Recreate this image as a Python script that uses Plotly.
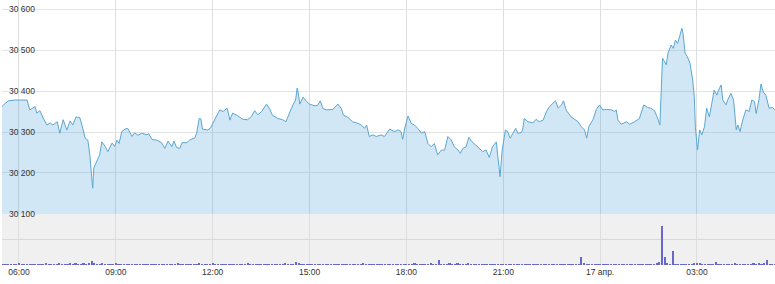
import plotly.graph_objects as go
from datetime import datetime, timedelta

# ---------------- data ----------------
price_times = [
    "05:28", "05:40", "05:53", "06:15", "06:20", "06:30", "06:33", "06:39", "06:45", "06:52",
    "06:58", "07:03", "07:11", "07:16", "07:22", "07:29", "07:35", "07:40", "07:46", "07:53",
    "07:57", "08:03", "08:08", "08:12", "08:15", "08:17", "08:19", "08:25", "08:30", "08:34",
    "08:40", "08:45", "08:53", "08:58", "09:02", "09:06", "09:11", "09:17", "09:22", "09:30",
    "09:35", "09:41", "09:48", "09:58", "10:01", "10:07", "10:16", "10:25", "10:31", "10:37",
    "10:44", "10:48", "10:53", "10:59", "11:03", "11:12", "11:17", "11:27", "11:30", "11:35",
    "11:38", "11:41", "11:51", "11:56", "12:04", "12:13", "12:19", "12:27", "12:32", "12:37",
    "12:46", "12:56", "13:05", "13:12", "13:18", "13:24", "13:31", "13:40", "13:46", "13:51",
    "14:01", "14:10", "14:16", "14:23", "14:29", "14:34", "14:37", "14:39", "14:42", "14:48",
    "14:54", "15:00", "15:09", "15:15", "15:20", "15:25", "15:31", "15:43", "15:53", "15:59",
    "16:03", "16:11", "16:20", "16:30", "16:36", "16:42", "16:46", "16:51", "16:58", "17:04",
    "17:13", "17:19", "17:29", "17:38", "17:44", "17:50", "17:53", "17:57", "18:03", "18:09",
    "18:15", "18:21", "18:28", "18:34", "18:40", "18:46", "18:52", "18:58", "19:05", "19:11",
    "19:17", "19:23", "19:29", "19:36", "19:40", "19:45", "19:51", "19:56", "20:02", "20:09",
    "20:16", "20:22", "20:28", "20:34", "20:40", "20:47", "20:50", "20:54", "20:58", "21:04",
    "21:08", "21:13", "21:18", "21:23", "21:27", "21:33", "21:36", "21:39", "21:46", "21:55",
    "22:01", "22:07", "22:14", "22:20", "22:26", "22:32", "22:37", "22:42", "22:48", "22:52",
    "22:57", "23:06", "23:13", "23:19", "23:25", "23:31", "23:35", "23:39", "23:47", "23:53",
    "23:59", "00:05", "00:12", "00:21", "00:27", "00:30", "00:33", "00:39", "00:49", "00:55",
    "01:04", "01:13", "01:21", "01:28", "01:34", "01:41", "01:47", "01:51", "01:56", "02:03",
    "02:06", "02:12", "02:16", "02:20", "02:24", "02:28", "02:32", "02:34", "02:38", "02:42",
    "02:47", "02:52", "02:55", "02:57", "03:01", "03:05", "03:09", "03:14", "03:18", "03:23",
    "03:26", "03:32", "03:37", "03:40", "03:45", "03:48", "03:54", "03:57", "04:03", "04:08",
    "04:13", "04:16", "04:20", "04:25", "04:31", "04:37", "04:42", "04:47", "04:50", "04:55",
    "04:59", "05:03", "05:08", "05:14", "05:20", "05:25",
]
price_values = [
    30362, 30376, 30378, 30378, 30354, 30362, 30346, 30352, 30334, 30317,
    30322, 30317, 30325, 30297, 30330, 30305, 30327, 30317, 30337, 30335,
    30317, 30285, 30280, 30240, 30191, 30163, 30212, 30232, 30245, 30276,
    30265, 30252, 30273, 30265, 30280, 30272, 30301, 30307, 30309, 30289,
    30298, 30292, 30297, 30293, 30296, 30282, 30280, 30274, 30260, 30278,
    30264, 30278, 30262, 30260, 30274, 30274, 30280, 30286, 30297, 30333,
    30332, 30307, 30305, 30310, 30329, 30354, 30350, 30358, 30329, 30346,
    30340, 30331, 30330, 30338, 30352, 30342, 30350, 30368, 30356, 30341,
    30333, 30330, 30325, 30349, 30366, 30378, 30407, 30395, 30368, 30385,
    30375, 30368, 30364, 30365, 30376, 30357, 30354, 30355, 30368, 30357,
    30341, 30336, 30325, 30321, 30317, 30309, 30317, 30289, 30293, 30289,
    30293, 30289, 30307, 30301, 30305, 30301, 30282, 30310, 30339, 30321,
    30317, 30309, 30297, 30301, 30272, 30264, 30272, 30244, 30256, 30256,
    30289, 30281, 30264, 30256, 30248, 30260, 30264, 30287, 30276, 30268,
    30260, 30252, 30256, 30238, 30264, 30276, 30240, 30191, 30256, 30305,
    30301, 30285, 30297, 30309, 30297, 30298, 30305, 30333, 30325, 30322,
    30331, 30325, 30329, 30349, 30362, 30370, 30376, 30358, 30366, 30376,
    30353, 30337, 30331, 30325, 30313, 30305, 30285, 30313, 30331, 30355,
    30366, 30354, 30355, 30354, 30350, 30354, 30329, 30319, 30325, 30319,
    30325, 30333, 30366, 30360, 30358, 30352, 30333, 30317, 30480, 30464,
    30492, 30512, 30504, 30524, 30516, 30537, 30553, 30541, 30492, 30484,
    30468, 30427, 30386, 30313, 30256, 30305, 30293, 30313, 30358, 30337,
    30358, 30402, 30390, 30402, 30415, 30378, 30366, 30378, 30394, 30378,
    30305, 30317, 30301, 30329, 30354, 30350, 30378, 30374, 30345, 30378,
    30417, 30398, 30390, 30358, 30360, 30354,
]

# volume: one row per hour, 5-minute bars starting at 05:30
volume_start = "05:30"
volume_rows = [
    [2, 1, 2, 2, 1, 2, 3, 2, 1, 2, 2, 1],
    [2, 2, 1, 2, 3, 2, 1, 2, 2, 4, 2, 1],
    [2, 3, 2, 4, 2, 2, 3, 2, 4, 8, 3, 2],
    [2, 3, 2, 1, 2, 2, 3, 2, 1, 2, 2, 1],
    [2, 1, 2, 2, 1, 2, 2, 1, 2, 1, 2, 2],
    [1, 2, 2, 1, 2, 3, 2, 1, 2, 2, 1, 2],
    [2, 3, 2, 2, 1, 2, 3, 2, 2, 1, 2, 2],
    [2, 1, 2, 2, 1, 2, 2, 3, 2, 1, 2, 2],
    [1, 2, 2, 1, 2, 2, 1, 2, 2, 3, 2, 2],
    [2, 6, 3, 2, 2, 1, 2, 2, 1, 2, 2, 1],
    [2, 1, 2, 2, 1, 2, 2, 1, 2, 2, 1, 2],
    [2, 2, 4, 2, 1, 2, 2, 1, 2, 2, 1, 2],
    [2, 1, 2, 2, 1, 2, 2, 1, 2, 3, 2, 2],
    [2, 1, 2, 3, 2, 2, 9, 2, 1, 2, 3, 2],
    [2, 3, 2, 1, 2, 3, 2, 2, 1, 2, 2, 1],
    [2, 1, 2, 2, 1, 2, 2, 1, 2, 2, 1, 2],
    [2, 1, 2, 2, 1, 2, 2, 1, 2, 2, 1, 2],
    [2, 1, 2, 2, 1, 2, 2, 1, 2, 2, 1, 16],
    [3, 2, 1, 2, 2, 1, 2, 2, 1, 2, 2, 1],
    [2, 1, 2, 2, 1, 2, 2, 1, 2, 2, 1, 2],
    [2, 1, 2, 3, 6, 76, 16, 3, 2, 27, 2, 1],
    [2, 2, 1, 2, 2, 4, 4, 3, 2, 1, 2, 2],
    [2, 6, 2, 1, 2, 2, 1, 2, 3, 2, 1, 2],
    [2, 1, 2, 4, 2, 4, 2, 3, 9, 2, 2, 1],
]

start_day = "2024-04-16"
x_start = "2024-04-16 05:28:25"
x_end = "2024-04-17 05:25:00"
tick_times = ["2024-04-16 06:00", "2024-04-16 09:00", "2024-04-16 12:00", "2024-04-16 15:00",
              "2024-04-16 18:00", "2024-04-16 21:00", "2024-04-17 00:00", "2024-04-17 03:00"]
tick_labels = ["06:00", "09:00", "12:00", "15:00", "18:00", "21:00", "17 апр.", "03:00"]
price_ticks = [30100, 30200, 30300, 30400, 30500, 30600]
price_tick_labels = ["30 100", "30 200", "30 300", "30 400", "30 500", "30 600"]

# ---------------- build ----------------
def to_datetimes(hhmm_list):
    base = datetime.strptime(start_day, "%Y-%m-%d")
    out, day, prev = [], 0, None
    for s in hhmm_list:
        h, m = map(int, s.split(":"))
        mins = h * 60 + m
        if prev is not None and mins < prev:
            day += 1
        prev = mins
        out.append(base + timedelta(days=day, minutes=mins))
    return out

px_t = to_datetimes(price_times)
vol_vals = [v for row in volume_rows for v in row]
v0 = datetime.strptime(start_day + " " + volume_start, "%Y-%m-%d %H:%M")
vol_t = [v0 + timedelta(minutes=5 * i) for i in range(len(vol_vals))]

FONT = "Liberation Sans, Arial, sans-serif"
SPLIT = 0.1925

fig = go.Figure()
fig.add_trace(go.Scatter(
    x=px_t, y=price_values, mode="lines",
    line=dict(color="#5ba7d3", width=1),
    fill="tozeroy", fillcolor="rgba(70,160,215,0.25)",
    xaxis="x", yaxis="y", hoverinfo="skip", showlegend=False,
))
fig.add_trace(go.Bar(
    x=vol_t, y=vol_vals, width=4 * 60 * 1000,
    marker=dict(color="#6868cc", line=dict(width=0)),
    xaxis="x", yaxis="y2", hoverinfo="skip", showlegend=False,
))

annotations = [
    dict(xref="paper", yref="y", x=0, y=v, text=t, showarrow=False,
         xanchor="left", yanchor="middle", xshift=5,
         font=dict(family=FONT, size=8.5, color="#333333"))
    for v, t in zip(price_ticks, price_tick_labels)
]

fig.update_layout(
    width=775, height=284,
    margin=dict(l=2, r=0, t=0, b=19),
    paper_bgcolor="white", plot_bgcolor="white",
    font=dict(family=FONT, size=8.5, color="#333333"),
    bargap=0,
    xaxis=dict(
        type="date", range=[x_start, x_end], anchor="y2",
        tickvals=tick_times, ticktext=tick_labels,
        showgrid=True, gridcolor="#dedede", gridwidth=1,
        ticks="", showline=False, zeroline=False,
        tickfont=dict(size=8.5, color="#333333"),
    ),
    yaxis=dict(
        domain=[SPLIT, 1], range=[30100, 30622],
        tickvals=price_ticks, showticklabels=False, ticks="",
        showgrid=True, gridcolor="#e4e4e4", gridwidth=1,
        zeroline=False, showline=False,
    ),
    yaxis2=dict(
        domain=[0, SPLIT], range=[0, 100],
        tickvals=[50], showticklabels=False, ticks="",
        showgrid=True, gridcolor="#d9d9d9", gridwidth=1,
        zeroline=False, showline=False,
    ),
    shapes=[dict(
        type="rect", xref="paper", yref="y2 domain",
        x0=0, x1=1, y0=0, y1=1,
        fillcolor="#f0f0f0", line=dict(width=0), layer="below",
    )],
    annotations=annotations,
)

fig.write_html("out.html")
